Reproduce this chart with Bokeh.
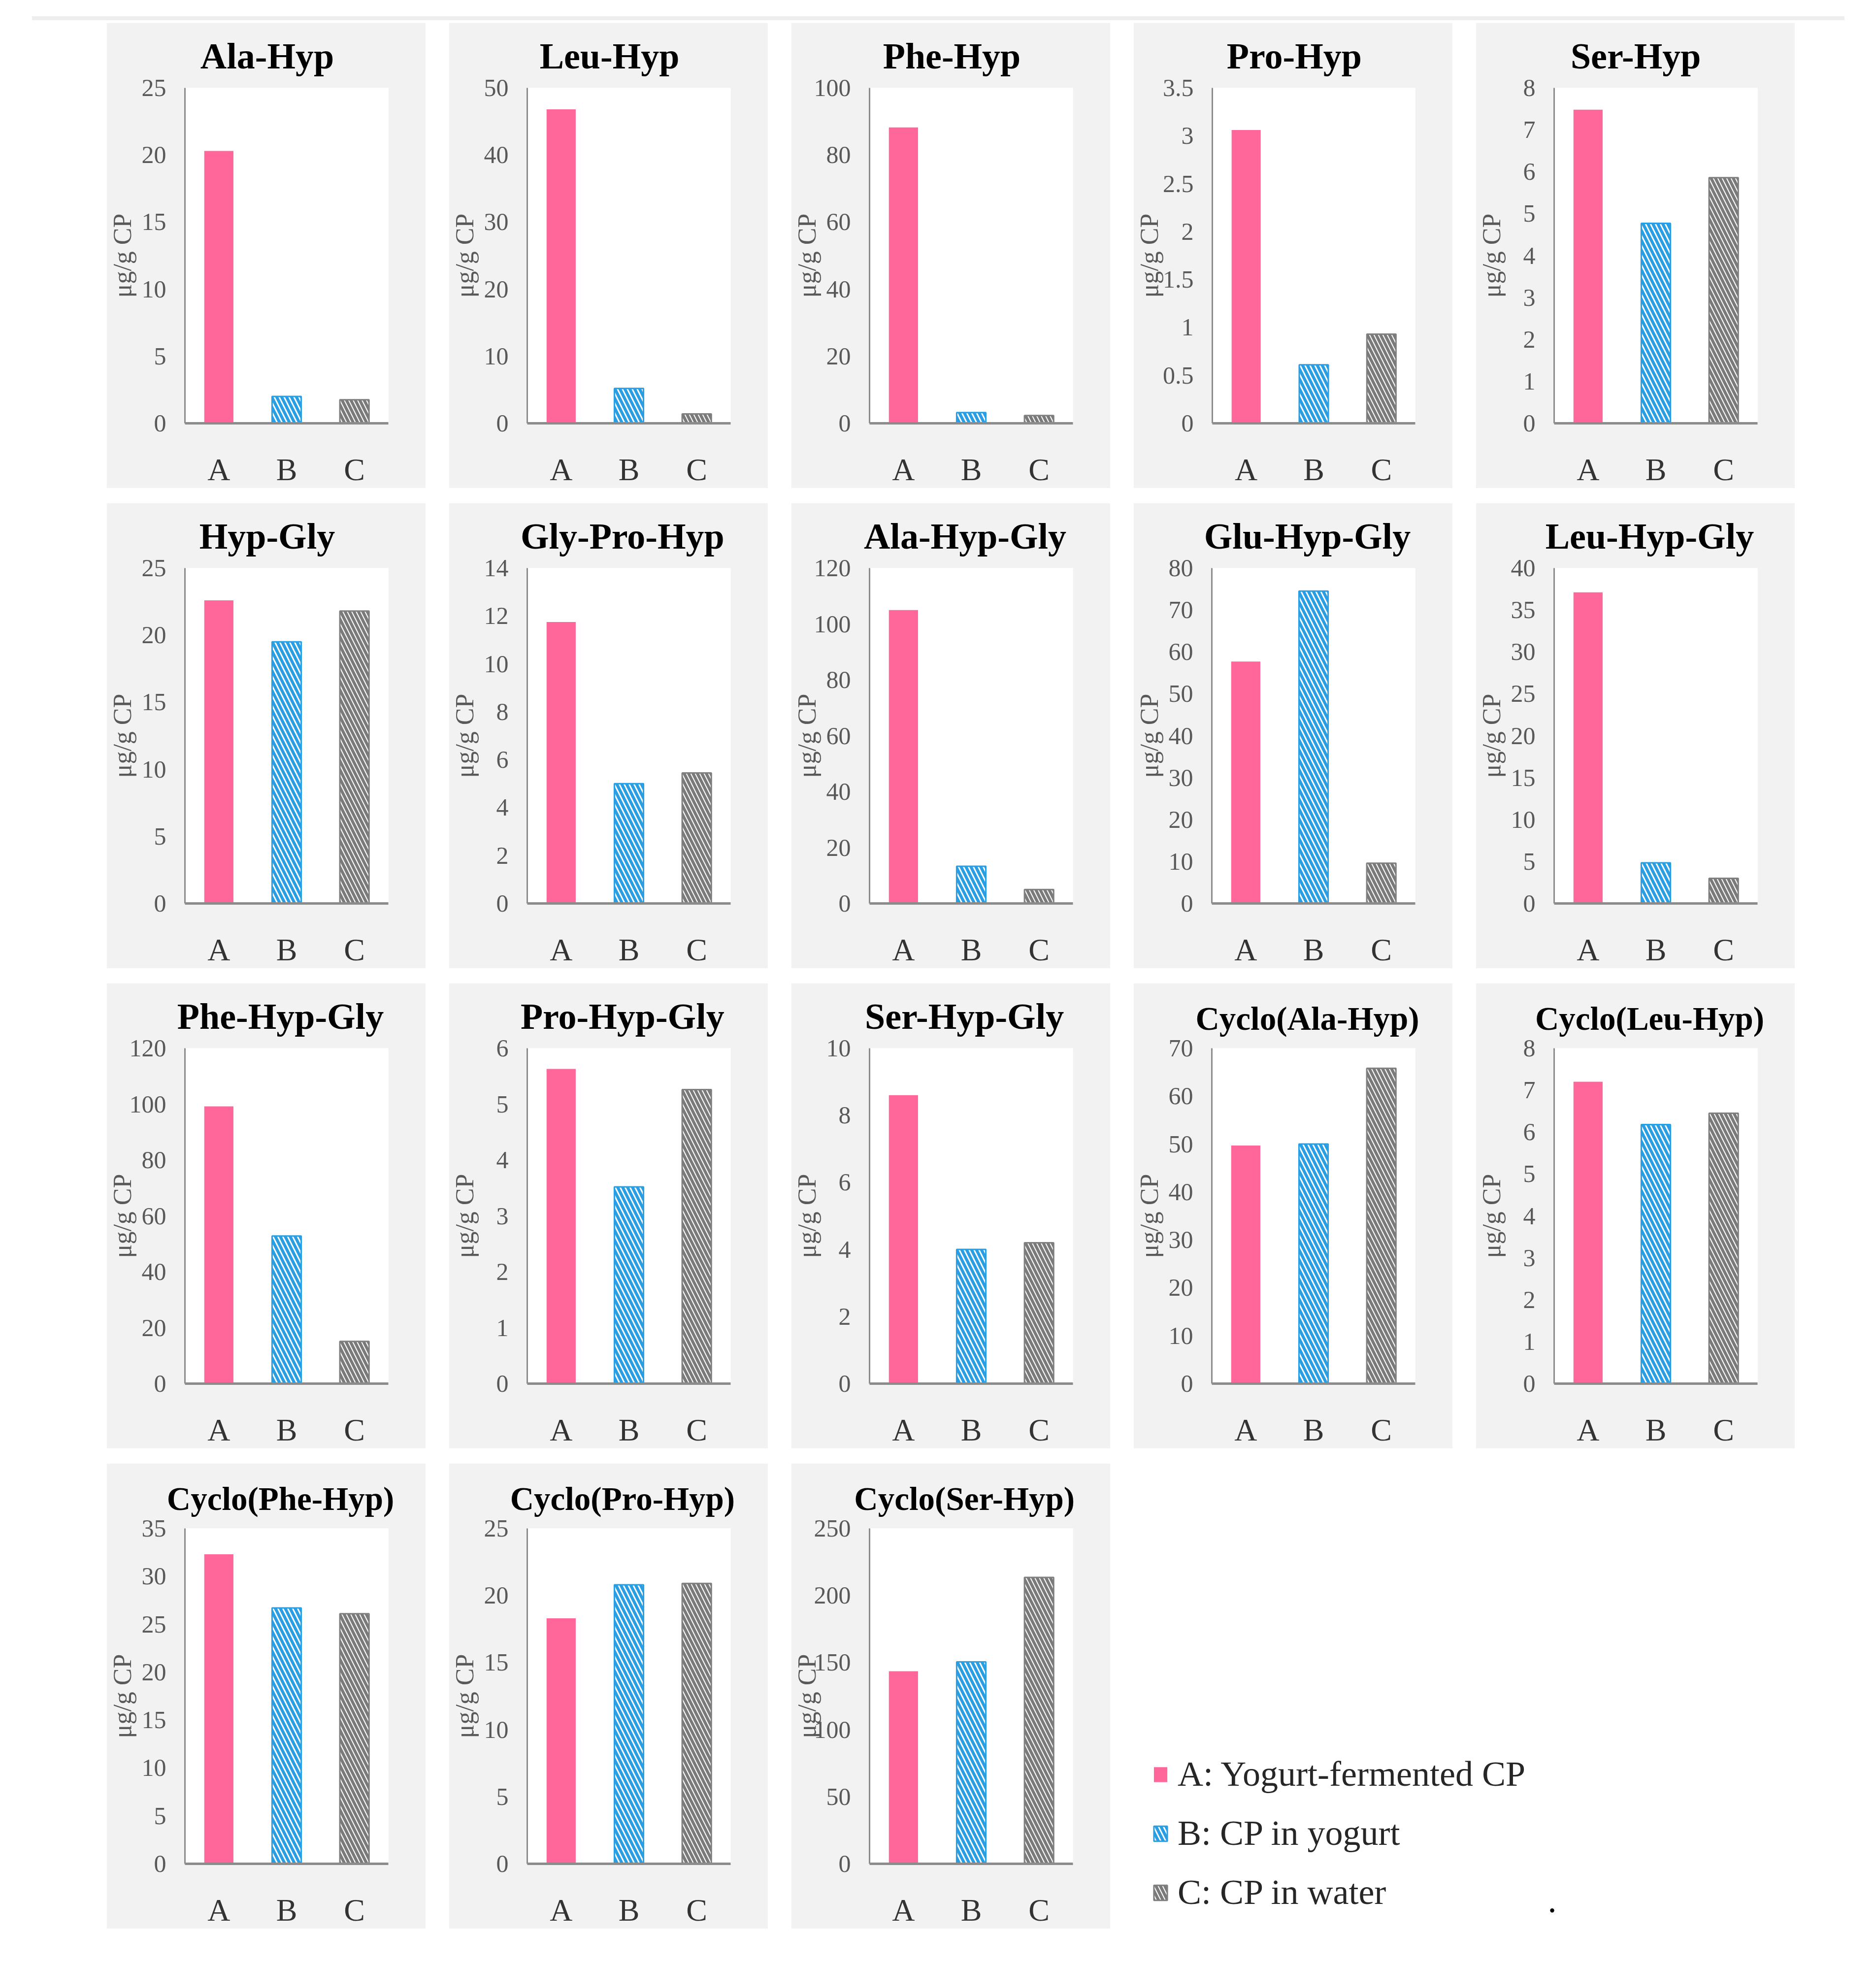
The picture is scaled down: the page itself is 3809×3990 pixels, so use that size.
import math
from bokeh.plotting import figure
from bokeh.models import (FactorRange, Range1d, FixedTicker, Label, Legend, LegendItem,
                          Spacer, Div, CustomJSTickFormatter)
from bokeh.layouts import row, column
from bokeh.embed import file_html
from bokeh.resources import INLINE

# ---------------- data ----------------
peptides = ["Ala-Hyp", "Leu-Hyp", "Phe-Hyp", "Pro-Hyp", "Ser-Hyp",
            "Hyp-Gly", "Gly-Pro-Hyp", "Ala-Hyp-Gly", "Glu-Hyp-Gly", "Leu-Hyp-Gly",
            "Phe-Hyp-Gly", "Pro-Hyp-Gly", "Ser-Hyp-Gly", "Cyclo(Ala-Hyp)", "Cyclo(Leu-Hyp)",
            "Cyclo(Phe-Hyp)", "Cyclo(Pro-Hyp)", "Cyclo(Ser-Hyp)"]
group_a = [20.3, 46.8, 88.2, 3.06, 7.48,
           22.6, 11.75, 105.0, 57.7, 37.1,
           99.2, 5.63, 8.6, 49.7, 7.2,
           32.3, 18.3, 143.5]
group_b = [2.0, 5.2, 3.2, 0.61, 4.77,
           19.5, 5.0, 13.3, 74.5, 4.85,
           52.8, 3.52, 4.0, 50.0, 6.18,
           26.7, 20.8, 150.5]
group_c = [1.75, 1.4, 2.3, 0.93, 5.86,
           21.8, 5.45, 5.0, 9.6, 3.0,
           15.1, 5.26, 4.2, 65.8, 6.45,
           26.1, 20.9, 213.5]
y_max = [25, 50, 100, 3.5, 8,
         25, 14, 120, 80, 40,
         120, 6, 10, 70, 8,
         35, 25, 250]
y_step = [5, 10, 20, 0.5, 1,
          5, 2, 20, 10, 5,
          20, 1, 2, 10, 1,
          5, 5, 50]
categories = ["A", "B", "C"]
legend_labels = ["A: Yogurt-fermented CP", "B: CP in yogurt", "C: CP in water"]
y_axis_label = "μg/g CP"

# ---------------- styling ----------------
FONT = "Liberation Serif"
PW, PH = 648, 945            # panel size
ML, MR, MT, MB = 157, 76, 132, 128
HGAP, VGAP = 47, 30
BAR_W = 0.43
TICK_PX = 50
YLAB_PX = 52

PINK = "#ff6699"
BLUE = "#2a9ee2"
GREY = "#7a7a7a"
STYLES = [
    dict(fill_color=PINK, line_color=None),
    dict(fill_color="white", hatch_pattern="left_diagonal_line", hatch_color=BLUE,
         hatch_scale=20, hatch_weight=6, line_color=BLUE, line_width=3),
    dict(fill_color="white", hatch_pattern="left_diagonal_line", hatch_color=GREY,
         hatch_scale=18, hatch_weight=6, line_color="#7f7f7f", line_width=3),
]
series = [group_a, group_b, group_c]

# approximate advance widths (per em) of Times/Liberation Serif Bold
BOLD_W = {'A': .722, 'B': .667, 'C': .722, 'E': .667, 'G': .778, 'H': .778, 'L': .667,
          'P': .611, 'S': .556, 'a': .5, 'c': .444, 'e': .444, 'h': .556, 'l': .278,
          'o': .5, 'p': .556, 'r': .444, 'u': .556, 'y': .5, '-': .333, '(': .333, ')': .333}


def text_w(s, size):
    return sum(BOLD_W.get(ch, .5) for ch in s) * size


def tick_label_w(t):
    s = ("%g" % t)
    return sum(0.25 if ch == "." else 0.5 for ch in s) * TICK_PX


tick_fmt_code = "return String(Math.round(tick * 1000) / 1000);"


def make_panel(i):
    name = peptides[i]
    tsize = 67 if name.startswith("Cyclo") else 74
    center = PW / 2 + (27 if len(name) > 7 else 0)
    t_off = center - ML - text_w(name, tsize) / 2

    p = figure(width=PW, height=PH, output_backend="svg", toolbar_location=None,
               x_range=FactorRange(*categories), y_range=Range1d(0, y_max[i]),
               min_border_left=ML, min_border_right=MR, min_border_top=MT, min_border_bottom=MB,
               background_fill_color="white", border_fill_color="#f2f2f2")
    p.title.text = name
    p.title.align = "left"
    p.title.offset = t_off
    p.title.standoff = 48
    p.title.text_font = FONT
    p.title.text_font_size = f"{tsize}px"
    p.title.text_font_style = "bold"
    p.title.text_color = "black"

    p.outline_line_color = None
    p.xgrid.visible = False
    p.ygrid.visible = False
    for k in range(3):
        p.vbar(x=[categories[k]], top=[series[k][i]], width=BAR_W, **STYLES[k])

    n = int(round(y_max[i] / y_step[i]))
    ticks = [round(j * y_step[i], 6) for j in range(n + 1)]
    ya = p.yaxis[0]
    ya.ticker = FixedTicker(ticks=ticks)
    ya.formatter = CustomJSTickFormatter(code=tick_fmt_code)
    ya.major_tick_out = 0
    ya.major_tick_in = 0
    ya.minor_tick_out = 0
    ya.minor_tick_in = 0
    ya.major_label_standoff = 38
    ya.major_label_text_font = FONT
    ya.major_label_text_font_size = f"{TICK_PX}px"
    ya.major_label_text_color = "#595959"
    ya.axis_line_color = "#8c8c8c"
    ya.axis_line_width = 3
    max_w = max(tick_label_w(t) for t in ticks)
    ya.axis_label = y_axis_label
    ya.axis_label_standoff = int(round(58 - max_w))
    ya.axis_label_text_font = FONT
    ya.axis_label_text_font_size = f"{YLAB_PX}px"
    ya.axis_label_text_font_style = "normal"
    ya.axis_label_text_color = "#595959"

    xa = p.xaxis[0]
    xa.major_tick_out = 0
    xa.major_tick_in = 0
    xa.major_label_standoff = 58
    xa.major_label_text_font = FONT
    xa.major_label_text_font_size = "64px"
    xa.major_label_text_color = "#333333"
    xa.axis_line_color = "#8c8c8c"
    xa.axis_line_width = 5
    return p


panels = [make_panel(i) for i in range(len(peptides))]

# legend figure, nested below a spacer so that its frame covers the legend area
LW, LH = 1440, 805
lp = figure(width=LW, height=LH, output_backend="svg", toolbar_location=None,
            x_range=Range1d(0, 1), y_range=Range1d(0, 1),
            x_axis_location=None, y_axis_location=None,
            min_border_left=0, min_border_right=0, min_border_top=0, min_border_bottom=0,
            background_fill_color="white", border_fill_color="white")
lp.grid.visible = False
lp.outline_line_color = None
items = []
for k in range(3):
    # swatch renderers with no drawable bar (NaN height)
    r = lp.vbar(x=[0.5], top=[float("nan")], width=BAR_W, **STYLES[k])
    items.append(LegendItem(label=legend_labels[k], renderers=[r]))
legend = Legend(items=items, location=(38, 32), border_line_color=None,
                background_fill_alpha=0, padding=0, margin=0, spacing=37,
                glyph_width=34, glyph_height=38, label_standoff=18,
                label_text_font=FONT, label_text_font_size="72px",
                label_text_color="#262626")
lp.add_layout(legend)
lp.add_layout(Label(x=850, y=34, x_units="screen", y_units="screen", text=".",
                    text_font=FONT, text_font_size="72px", text_color="black",
                    text_align="center"))
legend_box = column([Spacer(width=LW, height=PH - LH), lp], spacing=0)


def hrow(figs):
    kids = [Spacer(width=216, height=PH)]
    for j, f in enumerate(figs):
        if j > 0:
            kids.append(Spacer(width=HGAP, height=PH))
        kids.append(f)
    return row(kids, spacing=0)


top_line = row([Spacer(width=65, height=8),
                Div(text="", width=3680, height=8, margin=0,
                    styles={"background-color": "#eeeeee"})], spacing=0)

rows = [hrow(panels[0:5]), hrow(panels[5:10]), hrow(panels[10:15]),
        hrow(panels[15:18] + [legend_box])]
kids = [Spacer(width=10, height=33), top_line, Spacer(width=10, height=5)]
for j, r in enumerate(rows):
    if j > 0:
        kids.append(Spacer(width=10, height=VGAP))
    kids.append(r)
layout = column(kids, spacing=0)

with open("out.html", "w") as fh:
    fh.write(file_html(layout, INLINE))
